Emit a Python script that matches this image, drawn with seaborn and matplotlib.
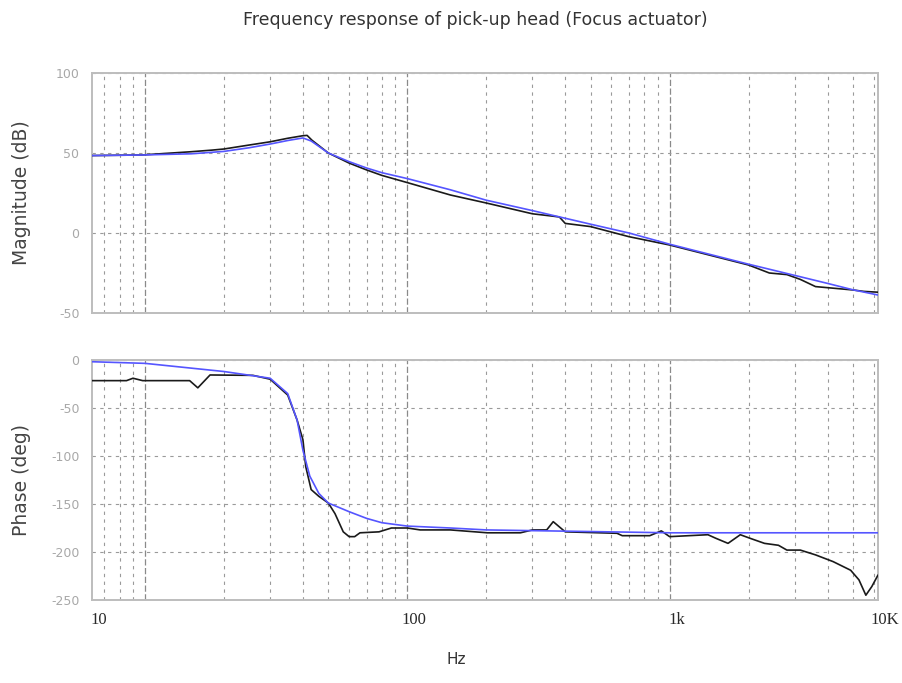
import numpy as np
import pandas as pd
import matplotlib
matplotlib.use("Agg")
import matplotlib.pyplot as plt
import matplotlib.transforms as mtransforms
from matplotlib.ticker import LogLocator, NullFormatter, FixedLocator, FixedFormatter
import seaborn as sns

# ---------------- data ----------------
mag_model_f = [6.28, 9.7, 15, 20, 25, 30, 35, 40, 43, 50, 60, 70, 80, 100, 146, 200, 300,
               500, 700, 1000, 2000, 3000, 4000, 5000, 6230]
mag_model_db = [48.4, 48.75, 49.5, 51, 53.3, 55.6, 57.8, 59.4, 57.5, 50, 44.6, 40.6, 37.7, 34,
                27, 20.5, 14, 5.5, 0, -7, -19.5, -26.5, -31.5, -35.5, -38.75]

mag_meas_f = [6.28, 9.7, 15, 18, 20, 25, 30, 35, 40, 41.5, 43.3, 50, 60, 70, 80, 100, 146,
              200, 300, 360, 380, 400, 500, 700, 1000, 2000, 2400, 2800, 3150, 3600, 5000,
              5500, 6230]
mag_meas_db = [48.4, 48.75, 50.8, 51.8, 52.5, 55, 57, 59.2, 60.8, 61, 58, 50, 43.7, 39.4, 36,
               31.5, 23.75, 18.75, 12, 10.5, 10, 6, 4, -2.3, -7.5, -20, -25, -26, -29, -33.5,
               -35.6, -36.5, -37]

ph_model_f = [6.28, 10, 20, 30, 35, 38, 40, 42.5, 46, 50, 60, 70, 80, 100, 146, 200, 1000, 6230]
ph_model_deg = [-1.8, -3.5, -12, -19, -35, -62.5, -94, -121, -139, -149, -158, -165, -169.5,
                -173, -175, -177, -180, -180]

ph_meas_f = [6.28, 8.5, 9.0, 9.8, 14.8, 15.9, 17.7, 25.8, 30, 35, 38, 40, 41, 43, 46, 50, 53,
             57, 60, 63, 66, 78, 87, 100, 112, 146, 202, 270, 300, 340, 360, 400, 630, 660,
             840, 930, 1000, 1400, 1500, 1670, 1860, 2040, 2300, 2600, 2800, 3150, 3600,
             4200, 4900, 5270, 5600, 5900, 6230]
ph_meas_deg = [-21.5, -21.5, -19, -21.5, -21.5, -29, -15.6, -16, -20, -36.5, -62.5, -83, -111,
               -135, -142, -149, -160, -179, -184, -184, -180, -179, -175, -175, -177, -177,
               -180, -180, -177, -177, -168.4, -179, -180.5, -183, -183, -178, -184, -182,
               -185.7, -191, -182, -186, -191, -193, -198, -198, -203, -210, -219, -229,
               -245, -236, -224]

x_tick_labels = ["10", "100", "1k", "10K"]
x_tick_pos = [6.28, 100, 1000, 6230]
decade_lines = [10, 100, 1000]

# ---------------- build tables ----------------
mag_df = pd.concat([
    pd.DataFrame({"f": mag_meas_f, "v": mag_meas_db, "s": "measured"}),
    pd.DataFrame({"f": mag_model_f, "v": mag_model_db, "s": "model"}),
])
ph_df = pd.concat([
    pd.DataFrame({"f": ph_meas_f, "v": ph_meas_deg, "s": "measured"}),
    pd.DataFrame({"f": ph_model_f, "v": ph_model_deg, "s": "model"}),
])

sns.set_style("white")
plt.rcParams["axes.unicode_minus"] = False
plt.rcParams["font.family"] = ["DejaVu Sans"]

fig = plt.figure(figsize=(9.03, 6.83), dpi=100)
ax1 = fig.add_axes([92 / 903, 1 - 313 / 683, 786 / 903, 240 / 683])
ax2 = fig.add_axes([92 / 903, 1 - 600 / 683, 786 / 903, 240 / 683])

palette = {"measured": "#1a1a1a", "model": "#5555ff"}
grid_col = "#9a9a9a"

for ax, df, ylim, yticks, ylabel in [
    (ax1, mag_df, (-50, 100), [-50, 0, 50, 100], "Magnitude (dB)"),
    (ax2, ph_df, (-250, 0), [-250, -200, -150, -100, -50, 0], "Phase (deg)"),
]:
    ax.set_xscale("log")
    ax.set_xlim(6.28, 6230)
    ax.set_ylim(*ylim)
    ax.set_yticks(yticks)
    ax.xaxis.set_major_locator(FixedLocator(x_tick_pos))
    ax.xaxis.set_minor_locator(LogLocator(base=10, subs=np.arange(2, 10), numticks=100))
    ax.xaxis.set_minor_formatter(NullFormatter())
    ax.grid(False)
    ax.grid(True, axis="x", which="minor", color=grid_col, linestyle=(0, (3, 4)), linewidth=0.8)
    ax.grid(True, axis="y", which="major", color=grid_col, linestyle=(0, (3, 4)), linewidth=0.8)
    for d in decade_lines:
        ax.axvline(d, color="#8a8a8a", linestyle=(0, (5, 2)), linewidth=0.9, zorder=0.5)
    sns.lineplot(data=df, x="f", y="v", hue="s", hue_order=["measured", "model"],
                 palette=palette, ax=ax, legend=False, linewidth=1.2, sort=False,
                 estimator=None, zorder=3)
    ax.set_xlim(6.28, 6230)
    ax.tick_params(axis="both", which="both", length=0)
    ax.tick_params(axis="y", labelsize=9, labelcolor="#a8a8a8", pad=9)
    for sp in ax.spines.values():
        sp.set_color("#bdbdbd")
        sp.set_linewidth(1.4)
    ax.set_ylabel(ylabel, fontsize=13.5, color="#444444")
    ax.set_xlabel("")

ax1.set_xticklabels([])
ax2.xaxis.set_major_formatter(FixedFormatter(x_tick_labels))
ax2.tick_params(axis="x", pad=9)
offset = mtransforms.ScaledTranslation(7 / 100, 0, fig.dpi_scale_trans)
for tick in ax2.xaxis.get_major_ticks():
    lbl = tick.label1
    lbl.set_family(["Liberation Serif", "DejaVu Serif"])
    lbl.set_fontsize(12)
    lbl.set_color("#2a2a2a")
    lbl.set_transform(lbl.get_transform() + offset)
ax1.yaxis.set_label_coords(-0.078, 0.5)
ax2.yaxis.set_label_coords(-0.078, 0.5)

fig.text(475 / 903, 1 - 20 / 683, "Frequency response of pick-up head (Focus actuator)",
         ha="center", va="center", fontsize=12.5, color="#333333")
fig.text(456 / 903, 1 - 660 / 683, "Hz", ha="center", va="center", fontsize=11, color="#333333")

fig.savefig("out.png", dpi=100)
